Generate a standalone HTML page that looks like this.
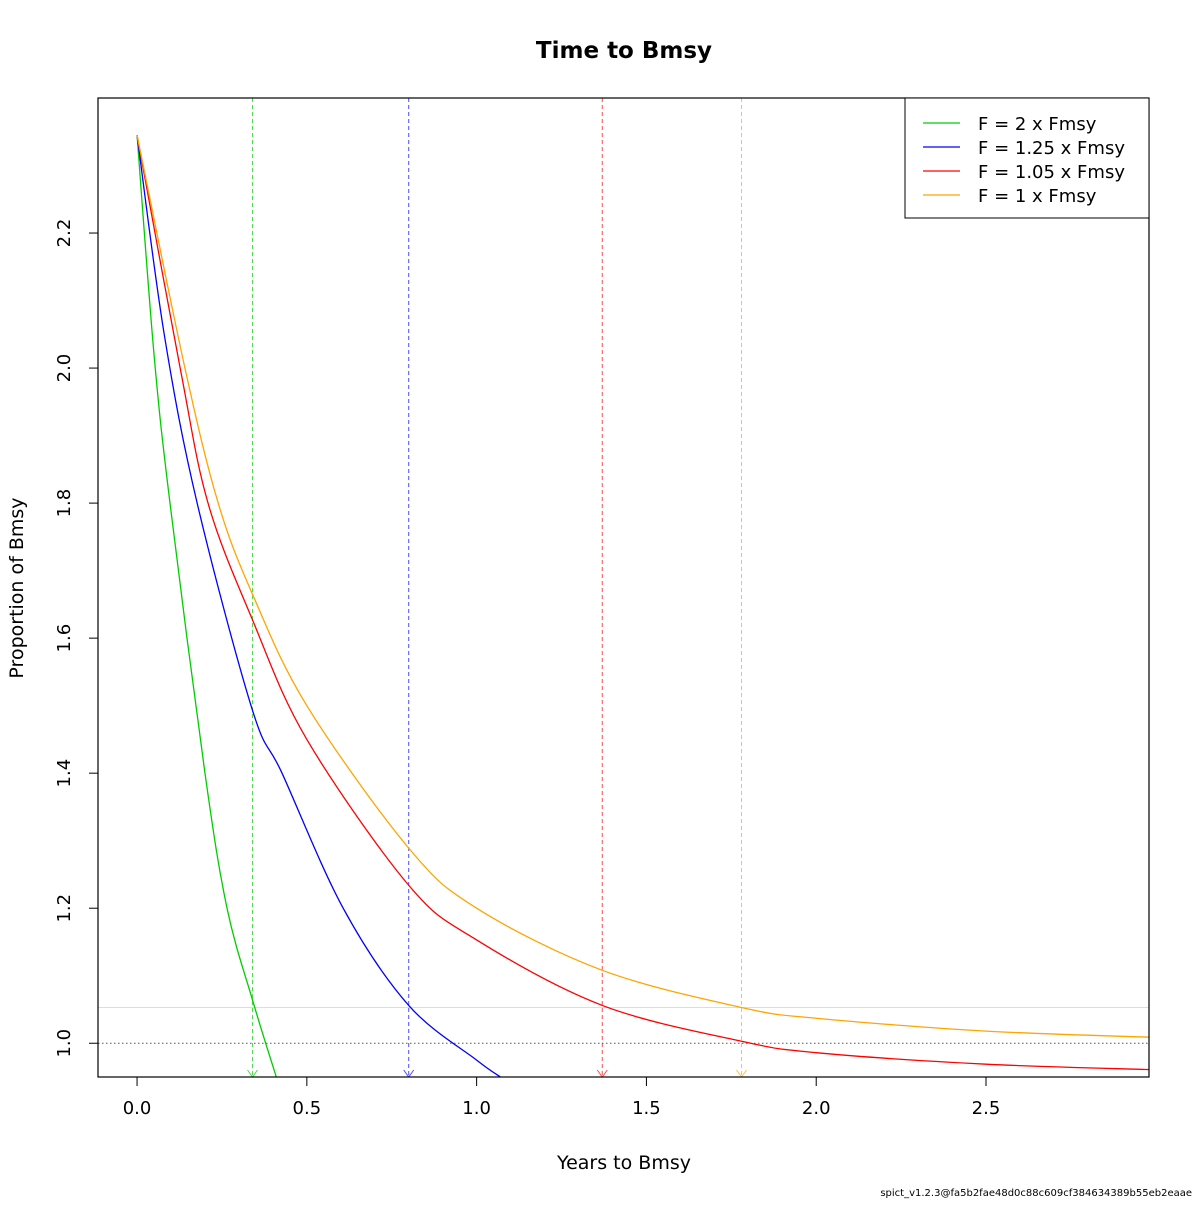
<!DOCTYPE html>
<html><head><meta charset="utf-8"><style>
body{margin:0;background:#fff;}
svg text{font-family:"DejaVu Sans","Liberation Sans",sans-serif;}
</style></head><body>
<svg id="chart" width="1200" height="1200" xmlns="http://www.w3.org/2000/svg">
<rect width="1200" height="1200" fill="#fff"/>
<text x="624" y="58" text-anchor="middle" font-size="23" font-weight="bold">Time to Bmsy</text>
<g id="plot"></g>
<rect x="98" y="98" width="1051" height="979" fill="none" stroke="#000" stroke-width="1.2"/>
<text x="624" y="1169" text-anchor="middle" font-size="19">Years to Bmsy</text>
<text transform="translate(23,588) rotate(-90)" text-anchor="middle" font-size="19">Proportion of Bmsy</text>
<text x="1192" y="1196" text-anchor="end" font-size="10">spict_v1.2.3@fa5b2fae48d0c88c609cf384634389b55eb2eaae</text>
<g>
<rect x="905" y="98" width="244" height="120" fill="#fff" stroke="#000" stroke-width="1"/>
</g>
</svg>
<script>
const xTicks=[0,0.5,1,1.5,2,2.5];
const xTickLabels=["0.0","0.5","1.0","1.5","2.0","2.5"];
const yTicks=[1.0,1.2,1.4,1.6,1.8,2.0,2.2];
const yTickLabels=["1.0","1.2","1.4","1.6","1.8","2.0","2.2"];
const seriesNames=["F = 2 x Fmsy","F = 1.25 x Fmsy","F = 1.05 x Fmsy","F = 1 x Fmsy"];
const seriesColors=["#00cd00","#0000ff","#ff0000","#ffa500"];
const greenT=[0,0.05,0.097,0.2,0.265,0.34,0.41];
const greenB=[2.345,2.02,1.8,1.4,1.2,1.064,0.95];
const blueT=[0,0.08,0.177,0.34,0.427,0.607,0.8,1.0,1.07];
const blueB=[2.345,2.05,1.8,1.493,1.4,1.2,1.056,0.975,0.95];
const redT=[0,0.127,0.209,0.34,0.5,0.8,1.0,1.37,1.78,2.0,2.5,2.98];
const redB=[2.345,2.0,1.8,1.627,1.45,1.234,1.153,1.056,1.003,0.986,0.969,0.961];
const orangeT=[0,0.141,0.239,0.34,0.5,0.8,1.0,1.37,1.78,2.0,2.5,2.98];
const orangeB=[2.345,2.0,1.8,1.665,1.5,1.289,1.2,1.108,1.053,1.037,1.018,1.009];
const targetTimes=[0.34,0.80,1.37,1.78];
const refLevel=1.0, bLimitLine=1.053;
const X0=98,X1=1149,Y0=98,Y1=1077, xmin=-0.115,xmax=2.98,ymin=0.95,ymax=2.4;
const sx=v=>X0+(v-xmin)/(xmax-xmin)*(X1-X0);
const sy=v=>Y1-(v-ymin)/(ymax-ymin)*(Y1-Y0);
const NS="http://www.w3.org/2000/svg";
const svg=document.getElementById('chart');
const plot=document.getElementById('plot');
function mk(tag,attrs,parent){const e=document.createElementNS(NS,tag);for(const k in attrs)e.setAttribute(k,attrs[k]);(parent||svg).appendChild(e);return e;}
// clip
const defs=mk('defs',{});const cp=mk('clipPath',{id:'clip'},defs);mk('rect',{x:X0,y:Y0,width:X1-X0,height:Y1-Y0},cp);
plot.setAttribute('clip-path','url(#clip)');
// reference lines
let l=mk('line',{x1:X0,x2:X1,y1:sy(bLimitLine),y2:sy(bLimitLine),stroke:'#dddddd','stroke-width':1},plot);

l=mk('line',{x1:X0,x2:X1,y1:sy(refLevel),y2:sy(refLevel),stroke:'#555','stroke-width':1,'stroke-dasharray':'1.5,2.5'},plot);

// vertical lines with arrows
targetTimes.forEach((t,i)=>{const x=sx(t);
 const v=mk('line',{x1:x,x2:x,y1:Y0,y2:Y1,stroke:seriesColors[i],'stroke-width':1,'stroke-dasharray':'4,3','stroke-opacity':0.7},plot);
 
 const a=mk('path',{d:`M${x-5},${Y1-7}L${x},${Y1}L${x+5},${Y1-7}`,fill:'none',stroke:seriesColors[i],'stroke-width':1,'stroke-opacity':0.7},plot);
 
});
// curves (Catmull-Rom)
function pathFor(T,B){const p=T.map((t,i)=>[sx(t),sy(B[i])]);let d=`M${p[0][0]},${p[0][1]}`;
 for(let i=0;i<p.length-1;i++){const p0=p[i-1]||p[i],p1=p[i],p2=p[i+1],p3=p[i+2]||p2;
  d+=`C${p1[0]+(p2[0]-p0[0])/6},${p1[1]+(p2[1]-p0[1])/6} ${p2[0]-(p3[0]-p1[0])/6},${p2[1]-(p3[1]-p1[1])/6} ${p2[0]},${p2[1]}`;}
 return d;}
[[greenT,greenB],[blueT,blueB],[redT,redB],[orangeT,orangeB]].forEach((s,i)=>{
 const c=mk('path',{d:pathFor(s[0],s[1]),fill:'none',stroke:seriesColors[i],'stroke-width':1.3},plot);
 
});
// ticks
xTicks.forEach((t,i)=>{const x=sx(t);
 const tk=mk('line',{x1:x,x2:x,y1:Y1,y2:Y1+9,stroke:'#000'});
 const tx=mk('text',{x:x,y:Y1+37,'text-anchor':'middle','font-size':18});tx.textContent=xTickLabels[i];
 });
yTicks.forEach((t,i)=>{const y=sy(t);
 const tk=mk('line',{x1:X0-9,x2:X0,y1:y,y2:y,stroke:'#000'});
 const tx=mk('text',{transform:`translate(${X0-28},${y}) rotate(-90)`,'text-anchor':'middle','font-size':18});tx.textContent=yTickLabels[i];
 });
// legend
seriesNames.forEach((n,i)=>{const y=123+24*i;
 const ln=mk('line',{x1:923,x2:960,y1:y,y2:y,stroke:seriesColors[i],'stroke-width':1.3});
 
 const tx=mk('text',{x:978,y:y+7,'font-size':18});tx.textContent=n;
 });
</script>
</body></html>
